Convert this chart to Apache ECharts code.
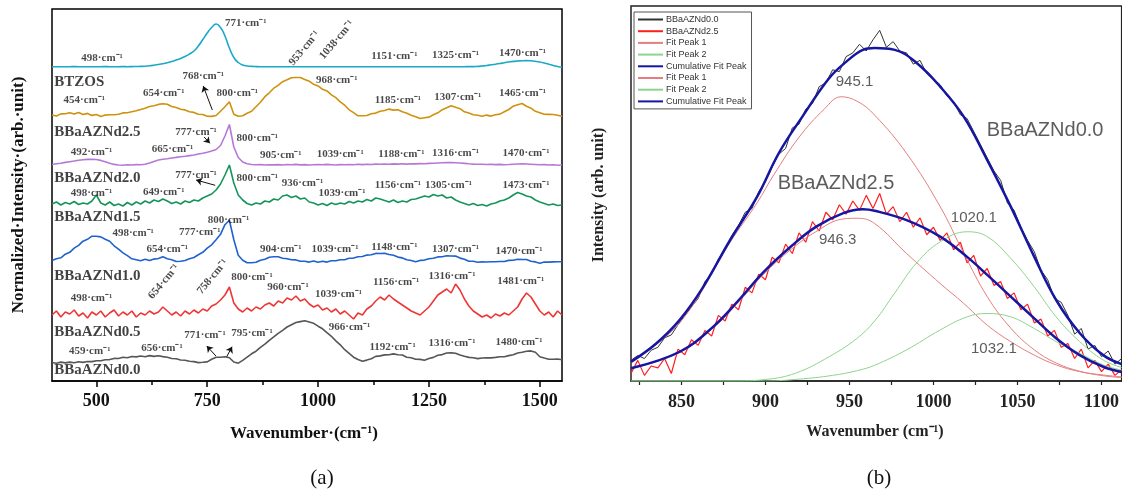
<!DOCTYPE html>
<html>
<head>
<meta charset="utf-8">
<title>Raman spectra of BBaAZNd glasses</title>
<script src="https://cdn.jsdelivr.net/npm/echarts@6/dist/echarts.min.js"></script>
<style>
  html, body { margin: 0; padding: 0; background: #fff; }
  #chart { width: 1122px; height: 491px; }
</style>
</head>
<body>
<div id="chart"></div>
<script>
// ---------- Panel (a): stacked Raman spectra (offset intensities) ----------
const wavenumberA = [
  400,410,420,430,440,450,460,470,480,490,
  500,510,520,530,540,550,560,570,580,590,
  600,610,620,630,640,650,660,670,680,690,
  700,710,720,730,740,750,760,770,780,790,
  800,810,820,830,840,850,860,870,880,890,
  900,910,920,930,940,950,960,970,980,990,
  1000,1010,1020,1030,1040,1050,1060,1070,1080,1090,
  1100,1110,1120,1130,1140,1150,1160,1170,1180,1190,
  1200,1210,1220,1230,1240,1250,1260,1270,1280,1290,
  1300,1310,1320,1330,1340,1350,1360,1370,1380,1390,
  1400,1410,1420,1430,1440,1450,1460,1470,1480,1490,
  1500,1510,1520,1530,1540,1550
];

const btzos = [
  314.3,314.3,314.2,314.3,314.3,314.4,314.3,314.3,314.2,314.3,
  314.3,314.3,314.4,314.3,314.3,314.3,314.4,314.3,314.4,314.5,
  314.6,314.8,315.2,315.8,316.5,317.3,318.3,319.5,321.0,322.5,
  324.5,327.0,330.0,335.0,341.5,348.0,353.5,357.0,353.5,345.0,
  333.0,323.5,318.5,316.0,315.0,314.6,314.4,314.3,314.3,314.3,
  314.3,314.3,314.2,314.3,314.3,314.3,314.2,314.3,314.3,314.3,
  314.3,314.2,314.3,314.3,314.3,314.3,314.2,314.3,314.3,314.3,
  314.3,314.3,314.2,314.3,314.3,314.3,314.3,314.2,314.3,314.3,
  314.3,314.3,314.3,314.2,314.3,314.3,314.3,314.3,314.3,314.3,
  314.3,314.3,314.3,314.3,314.4,314.4,314.6,315.0,315.5,316.2,
  316.8,317.5,318.3,319.0,319.6,320.0,320.3,320.4,320.2,319.7,
  319.0,318.0,316.8,315.5,314.5,313.7
];

const nd25 = [
  266.0,265.0,267.1,267.3,268.3,266.9,268.5,266.5,267.6,265.6,
  266.5,264.6,265.9,266.2,266.2,266.8,268.1,268.3,269.3,270.2,
  271.5,272.7,274.5,275.2,276.6,277.3,276.7,274.5,273.5,271.7,
  271.1,269.2,268.6,266.7,266.5,264.7,264.6,265.5,269.8,274.2,
  279.3,266.8,264.8,265.2,267.8,269.7,274.3,278.7,284.3,288.2,
  292.8,295.7,299.3,301.2,303.3,303.5,303.5,301.5,299.8,296.7,
  295.1,291.7,290.1,286.2,283.3,279.2,275.8,271.2,268.3,265.2,
  265.3,265.5,267.3,267.9,269.8,270.5,271.9,270.9,271.3,269.2,
  267.8,265.7,264.3,262.5,263.3,263.9,266.3,268.2,271.3,273.2,
  275.3,273.7,272.3,269.2,267.9,266.2,265.8,264.7,265.9,264.9,
  266.3,266.9,269.3,271.5,274.8,276.2,277.5,274.7,272.8,269.7,
  268.3,266.7,266.6,266.5,265.8,264.7
];

const nd20 = [
  216.5,217.2,217.8,218.6,219.3,220.0,220.8,221.3,221.6,221.8,
  221.5,220.6,219.3,217.8,216.6,216.0,215.8,216.2,216.0,216.4,
  216.3,216.8,218.0,219.6,221.0,221.8,222.3,223.0,223.6,224.3,
  224.8,225.4,226.0,227.0,227.8,228.8,230.0,231.5,235.5,245.0,
  256.5,234.0,223.5,219.0,217.2,216.5,216.2,216.4,216.0,216.3,
  216.1,216.4,216.0,216.5,216.2,216.6,216.1,216.4,216.0,216.3,
  216.5,216.2,216.6,216.3,216.0,216.4,216.2,216.5,216.3,216.7,
  216.4,216.8,216.5,216.9,216.7,217.0,216.8,217.1,216.9,217.2,
  216.9,217.3,217.1,217.4,217.2,217.6,217.8,218.0,218.2,218.4,
  218.5,218.3,218.0,217.6,217.2,216.9,216.7,216.8,216.5,216.7,
  216.4,216.6,216.3,216.5,216.8,217.0,217.2,217.0,216.8,216.5,
  216.2,216.4,216.0,216.2,215.8,216.0
];

const nd15 = [
  177,179,176,178.5,177,179.5,176.5,178,177,180,
  186,178,176,179,175.5,177,175,178.5,176,179,
  177,180,178,181,179.5,182,180,177.5,179,177,
  180,178.5,181,180,183,185,187,191,197,206,
  216,198,186,181,177.5,176,178,177,180,179,
  182,181,185,186,183.5,185,182,183,179,178,
  176,177.5,175.5,178,176.5,178,177,179.5,178,180,
  179,181.5,180,183,182,180.5,179,181,178.5,180,
  179,181.5,182,183.5,185,184,186.5,185,186,183,
  184,181,179,177.5,176,177.5,175.5,176.5,175,177,
  178,180,181,183,186,188.5,187,185,184,181,
  179,177.5,176,177,175.5,176
];

const nd10 = [
  120.5,122.3,123.2,126.8,128.7,132.8,135.7,139.8,141.7,144.8,
  144.7,144.1,141.7,139.8,135.2,131.8,128.2,125.3,122.2,121.3,
  120.2,121.8,120.5,121.9,122.5,124.3,122.2,121.3,119.5,119.8,
  120.5,122.3,123.5,126.3,128.7,132.8,136.2,141.3,146.7,156.3,
  160.7,141.3,125.7,120.8,118.2,118.3,118.7,120.8,121.7,123.8,
  124.2,124.3,122.7,122.3,121.2,121.1,119.7,119.8,118.9,120.1,
  118.7,119.8,118.9,120.3,120.2,121.3,121.3,122.7,122.9,124.3,
  124.5,125.9,126.2,127.6,127.5,127.8,126.5,125.8,123.9,123.1,
  121.2,120.5,119.2,120.6,120.9,122.3,122.7,124.1,124.3,125.3,
  125.0,124.9,122.9,121.8,119.7,119.7,118.7,119.1,119.0,119.3,
  119.3,119.5,119.5,120.6,120.7,121.8,121.5,121.5,119.7,119.1,
  117.7,118.9,118.9,119.1,119.2,119.3
];

const nd05 = [
  66,70,64,69,67,71,65,68,63,69,
  66,70,64,68,71,65,69,66,70,64,
  68,66,70,67,69,74,70,66,69,65,
  70,67,71,68,72,70,75,77,81,86,
  94,78,72,69,73,70,74,72,76,78,
  75,80,78,83,81,85,80,82,77,74,
  76,71,73,69,72,67,70,66,62,68,
  66,72,75,80,84,81,86,82,79,76,
  73,70,68,66,70,74,80,86,89,92,
  88,97,91,82,75,70,67,64,66,63,
  67,65,68,66,70,74,82,88,84,77,
  70,66,69,64,70,66
];

const nd00 = [
  18.5,17.8,18.9,18.1,18.9,18.2,19.3,18.6,19.5,19.4,
  20.2,20.3,21.3,21.4,22.6,22.5,23.7,23.3,24.5,24.1,
  25.0,24.3,25.4,24.6,25.2,24.4,23.8,22.5,22.2,21.0,
  20.8,19.8,19.4,18.4,18.7,19.1,21.7,23.8,23.8,24.2,
  23.3,19.0,17.8,20.7,23.8,27.2,29.8,33.7,36.8,40.7,
  44.1,47.7,50.6,54.0,56.3,58.5,59.4,60.2,59.0,57.7,
  54.8,52.2,48.3,44.7,40.1,36.2,31.3,27.7,23.8,21.5,
  19.8,20.9,22.3,24.6,25.1,26.1,26.3,27.1,26.2,26.0,
  23.8,23.2,21.8,21.6,20.8,22.5,23.6,25.7,26.4,28.0,
  28.1,27.7,26.0,24.7,23.6,23.2,22.4,23.0,23.1,23.1,
  23.6,24.2,24.3,25.4,26.3,28.0,28.8,29.8,30.1,28.7,
  24.3,23.0,21.8,21.8,22.0,21.2
];

// sample names, printed under each trace at the left edge [wavenumber, offset intensity, name]
const sampleNamesA = [
  [405, 299.3, 'BTZOS'],
  [405, 249.3, 'BBaAZNd2.5'],
  [405, 202.7, 'BBaAZNd2.0'],
  [405, 164.3, 'BBaAZNd1.5'],
  [405, 105.0, 'BBaAZNd1.0'],
  [405, 49.3, 'BBaAZNd0.5'],
  [405, 11.0, 'BBaAZNd0.0']
];

// band assignments [wavenumber, offset intensity, text, rotation]
const bandLabelsA = [
  [837, 357.7, '771·cm⁻¹', 0], [513, 322.7, '498·cm⁻¹', 0], [969, 332.7, '953·cm⁻¹', 50],
  [1042, 341, '1038·cm⁻¹', 50], [1172, 325, '1151·cm⁻¹', 0], [1310, 326, '1325·cm⁻¹', 0],
  [1461, 328.3, '1470·cm⁻¹', 0],
  [741, 305, '768·cm⁻¹', 0], [1042, 301, '968·cm⁻¹', 0], [473, 281, '454·cm⁻¹', 0],
  [652, 288.3, '654·cm⁻¹', 0], [818, 288.3, '800·cm⁻¹', 0], [1180, 281, '1185·cm⁻¹', 0],
  [1315, 283.7, '1307·cm⁻¹', 0], [1461, 288.3, '1465·cm⁻¹', 0],
  [725, 249.3, '777·cm⁻¹', 0], [863, 243.3, '800·cm⁻¹', 0], [489, 229.3, '492·cm⁻¹', 0],
  [672, 232, '665·cm⁻¹', 0], [916, 226, '905·cm⁻¹', 0], [1050, 227, '1039·cm⁻¹', 0],
  [1188, 227, '1188·cm⁻¹', 0], [1310, 227.7, '1316·cm⁻¹', 0], [1469, 228.3, '1470·cm⁻¹', 0],
  [725, 206, '777·cm⁻¹', 0], [863, 202.7, '800·cm⁻¹', 0], [965, 197.7, '936·cm⁻¹', 0],
  [489, 188.3, '498·cm⁻¹', 0], [652, 189.3, '649·cm⁻¹', 0], [1054, 188.3, '1039·cm⁻¹', 0],
  [1180, 196, '1156·cm⁻¹', 0], [1294, 196, '1305·cm⁻¹', 0], [1469, 196, '1473·cm⁻¹', 0],
  [798, 161, '800·cm⁻¹', 0], [583, 147.7, '498·cm⁻¹', 0], [733, 149.3, '777·cm⁻¹', 0],
  [660, 131.7, '654·cm⁻¹', 0], [916, 131.7, '904·cm⁻¹', 0], [1038, 131.7, '1039·cm⁻¹', 0],
  [1172, 134.3, '1148·cm⁻¹', 0], [1310, 131.7, '1307·cm⁻¹', 0], [1453, 130.3, '1470·cm⁻¹', 0],
  [652, 99.3, '654·cm⁻¹', 50], [762, 104.3, '758·cm⁻¹', 50], [851, 104.3, '800·cm⁻¹', 0],
  [932, 94.3, '960·cm⁻¹', 0], [1046, 87, '1039·cm⁻¹', 0], [1176, 99.3, '1156·cm⁻¹', 0],
  [1302, 105, '1316·cm⁻¹', 0], [1457, 100.3, '1481·cm⁻¹', 0], [489, 82.7, '498·cm⁻¹', 0],
  [1071, 54.3, '966·cm⁻¹', 0], [745, 46, '771·cm⁻¹', 0], [851, 47.7, '795·cm⁻¹', 0],
  [485, 30.3, '459·cm⁻¹', 0], [648, 32.7, '656·cm⁻¹', 0], [1168, 34.3, '1192·cm⁻¹', 0],
  [1302, 38.3, '1316·cm⁻¹', 0], [1453, 39.3, '1480·cm⁻¹', 0]
];

// pointer arrows [[tail], [head]]
const arrowsA = [
  [[761.5, 271], [741, 295]],
  [[743, 244], [756, 237.7]],
  [[768, 195.7], [725, 201]],
  [[769.6, 25], [749, 35]],
  [[794, 24.3], [806, 34.3]]
];

const majorTicksA = [500, 750, 1000, 1250, 1500];
const minorTicksA = [625, 875, 1125, 1375];

// ---------- Panel (b): deconvolution of the 850-1100 cm-1 band ----------
const wavenumberB = [
  820,824,828,832,836,840,844,848,852,856,860,864,868,872,876,880,884,888,892,896,
  900,904,908,912,916,920,924,928,932,936,940,944,948,952,956,960,964,968,972,976,
  980,984,988,992,996,1000,1004,1008,1012,1016,1020,1024,1028,1032,1036,1040,1044,1048,1052,1056,
  1060,1064,1068,1072,1076,1080,1084,1088,1092,1096,1100,1104,1108,1112
];

const rawNd00 = [
  5.5,6.8,6.0,8.2,9.0,11.5,12.3,15.0,17.5,19.8,22.0,26.5,28.5,32.5,35.0,38.8,41.5,45.0,46.0,50.5,
  53.2,57.0,60.5,62.0,67.5,68.5,72.5,74.0,78.5,79.5,83.0,82.5,86.5,87.5,89.8,88.0,91.0,93.5,89.0,90.5,
  88.0,87.5,84.5,85.5,82.0,80.5,79.0,76.0,74.5,71.0,70.0,66.5,63.0,59.5,56.0,53.5,47.5,45.5,41.0,37.5,
  34.5,29.5,27.0,22.0,21.0,17.5,12.5,14.0,8.5,9.5,6.5,8.0,4.5,6.0
];

const rawNd25 = [
  2.0,5.5,1.5,4.0,3.5,6.0,2.0,8.5,7.0,11.0,9.5,13.5,12.0,17.5,16.0,20.5,19.0,25.0,23.5,28.5,
  27.0,33.0,31.5,36.5,34.0,39.5,37.0,42.5,40.0,45.0,43.0,47.0,44.5,48.0,45.5,49.5,46.0,50.0,44.5,46.5,
  42.5,45.0,41.0,43.5,39.0,41.0,37.5,39.5,35.0,37.0,31.5,33.5,28.0,30.0,25.5,26.5,22.0,23.5,19.0,20.5,
  15.5,16.5,12.0,13.5,9.0,10.0,6.0,8.5,3.5,5.5,2.5,4.5,1.5,3.0
];

// fitted components [wavenumber, intensity]
const nd00Peak1 = [[820,5.0],[849,15.5],[879,37],[895,47.5],[905,55],[920,65],[935,72.5],[945,75.8],[955,74.5],[965,70.9],[984,60.7],[1004,46.5],[1018,34.1],[1032,22.5],[1046,14.1],[1060,8.3],[1073,4.8],[1087,2.6],[1101,1.4],[1112,0.9]];
const nd00Peak2 = [[820,0],[880,0],[900,0.4],[918,2.1],[938,6.5],[954,11.2],[965,16.0],[977,23.5],[990,31.5],[1004,37.1],[1020,39.8],[1032,38.5],[1046,32.7],[1060,25.1],[1073,17.1],[1087,10.5],[1101,5.6],[1112,3.6]];
const nd00Cumulative = [[820,5.1],[835,10.0],[849,16.3],[863,25.1],[879,37.6],[895,49.1],[908,60.8],[922,70.5],[938,80.8],[948,85.1],[958,88.3],[965,88.8],[977,88.3],[990,84.8],[1004,78.5],[1018,70.5],[1032,58.9],[1046,46.5],[1060,33.1],[1073,21.6],[1087,12.8],[1101,6.9],[1112,4.5]];
const nd25Peak1 = [[820,3.3],[849,7.6],[869,14.2],[885,21.5],[899,28.5],[915,35],[930,39.8],[946,43.2],[955,43.4],[965,42.0],[984,34.0],[1004,26.0],[1018,20.7],[1032,14.9],[1046,10.5],[1060,6.9],[1073,4.3],[1087,2.5],[1101,1.6],[1112,1.1]];
const nd25Peak2 = [[820,0],[900,0],[920,0.5],[940,1.5],[955,2.8],[965,4.2],[984,8.3],[1004,13.6],[1020,17.1],[1032,18.0],[1046,17.1],[1060,14.0],[1073,10.5],[1087,7.4],[1101,4.3],[1112,2.9]];
const nd25Cumulative = [[820,3.4],[849,7.8],[869,14.5],[885,22.0],[899,29.1],[915,35.8],[930,41.1],[946,44.7],[958,45.8],[965,45.4],[984,42.9],[1004,38.5],[1020,33.1],[1032,28.3],[1046,22.5],[1060,16.7],[1073,11.4],[1087,6.9],[1101,3.8],[1112,2.4]];

// peak centres and sample names [wavenumber, intensity, text, font size, align]
const labelsB = [
  [953, 79.8, '945.1', 15, 'center'],
  [943, 37.6, '946.3', 15, 'center'],
  [1024, 43.4, '1020.1', 15, 'center'],
  [1036, 8.7, '1032.1', 15, 'center'],
  [907.3, 52.7, 'BBaAZNd2.5', 20, 'left'],
  [1031.7, 66.9, 'BBaAZNd0.0', 20, 'left']
];

const majorTicksB = [850, 900, 950, 1000, 1050, 1100];
const allTicksB = [825, 850, 875, 900, 925, 950, 975, 1000, 1025, 1050, 1075, 1100];

// ---------- helpers ----------
const SERIF = 'Liberation Serif';
const SANS = 'Liberation Sans';
const zipA = ys => wavenumberA.map((x, i) => [x, ys[i]]);
const zipB = ys => wavenumberB.map((x, i) => [x, ys[i]]);
const plainNumber = v => String(v);

function traceA(name, ys, color, smooth) {
  return {
    name: name, type: 'line', xAxisIndex: 0, yAxisIndex: 0,
    data: zipA(ys), symbol: 'none', smooth: !!smooth, silent: true,
    lineStyle: { color: color, width: 1.6 }
  };
}
function traceB(name, data, color, width, z, smooth) {
  return {
    name: name, type: 'line', xAxisIndex: 2, yAxisIndex: 1,
    data: data, symbol: 'none', smooth: smooth ? 0.4 : false,
    silent: true, z: z,
    itemStyle: { color: color },
    lineStyle: { color: color, width: width }
  };
}

const chart = echarts.init(document.getElementById('chart'));

const option = {
  animation: false,
  backgroundColor: '#ffffff',
  grid: [
    { left: 52, right: 560, top: 9, bottom: 110, show: true, borderColor: '#000', borderWidth: 1.5, backgroundColor: 'transparent' },
    { left: 631, right: -2, top: 6, bottom: 110, show: true, borderColor: '#222', borderWidth: 1.5, backgroundColor: 'transparent' }
  ],
  xAxis: [
    {
      type: 'value', gridIndex: 0, min: 400, max: 1550, position: 'bottom',
      axisLine: { show: true, lineStyle: { color: '#000', width: 1.5 } },
      axisTick: { show: true, customValues: majorTicksA, length: 6, lineStyle: { color: '#000', width: 1.5 } },
      axisLabel: { customValues: majorTicksA, formatter: plainNumber, fontFamily: SERIF, fontWeight: 'bold', fontSize: 18, color: '#111', margin: 11 },
      splitLine: { show: false }
    },
    {
      type: 'value', gridIndex: 0, min: 400, max: 1550, position: 'bottom',
      axisLine: { show: false },
      axisTick: { show: true, customValues: minorTicksA, length: 4, lineStyle: { color: '#000', width: 1.5 } },
      axisLabel: { show: false }, splitLine: { show: false }
    },
    {
      type: 'value', gridIndex: 1, min: 820, max: 1112, position: 'bottom',
      axisLine: { show: true, lineStyle: { color: '#222', width: 1.5 } },
      axisTick: { show: true, customValues: allTicksB, length: 4, lineStyle: { color: '#222', width: 1.2 } },
      axisLabel: { customValues: majorTicksB, formatter: plainNumber, fontFamily: SERIF, fontWeight: 'bold', fontSize: 18, color: '#222', margin: 12 },
      splitLine: { show: false }
    }
  ],
  yAxis: [
    { type: 'value', gridIndex: 0, min: 0, max: 372, show: false },
    { type: 'value', gridIndex: 1, min: 0, max: 100, show: false }
  ],
  legend: {
    data: [
      'BBaAZNd0.0', 'BBaAZNd2.5',
      'BBaAZNd0.0 | Fit Peak 1', 'BBaAZNd0.0 | Fit Peak 2', 'BBaAZNd0.0 | Cumulative Fit Peak',
      'BBaAZNd2.5 | Fit Peak 1', 'BBaAZNd2.5 | Fit Peak 2', 'BBaAZNd2.5 | Cumulative Fit Peak'
    ],
    formatter: name => name.indexOf(' | ') >= 0 ? name.split(' | ')[1] : name,
    orient: 'vertical', left: 634, top: 12,
    itemWidth: 25, itemHeight: 9, itemGap: 2.7,
    padding: [3, 5, 3, 3],
    backgroundColor: '#fff', borderColor: '#555', borderWidth: 1,
    selectedMode: false,
    itemStyle: { opacity: 0 },
    textStyle: { fontFamily: SANS, fontSize: 9, color: '#333', lineHeight: 9, padding: [0, 0, 0, -2] }
  },
  graphic: [
    { type: 'text', x: 19, y: 195, rotation: Math.PI / 2,
      style: { text: 'Normalized·Intensity·(arb.·unit)', font: 'bold 17px "Liberation Serif"', fill: '#111', align: 'center', verticalAlign: 'middle' } },
    { type: 'text', x: 304, y: 434,
      style: { text: 'Wavenumber·(cm⁻¹)', font: 'bold 17px "Liberation Serif"', fill: '#111', align: 'center', verticalAlign: 'middle' } },
    { type: 'text', x: 322, y: 478,
      style: { text: '(a)', font: '21px "Liberation Serif"', fill: '#111', align: 'center', verticalAlign: 'middle' } },
    { type: 'text', x: 599, y: 195, rotation: Math.PI / 2,
      style: { text: 'Intensity (arb. unit)', font: 'bold 16px "Liberation Serif"', fill: '#222', align: 'center', verticalAlign: 'middle' } },
    { type: 'text', x: 875, y: 432,
      style: { text: 'Wavenumber (cm⁻¹)', font: 'bold 16px "Liberation Serif"', fill: '#222', align: 'center', verticalAlign: 'middle' } },
    { type: 'text', x: 879, y: 478,
      style: { text: '(b)', font: '21px "Liberation Serif"', fill: '#111', align: 'center', verticalAlign: 'middle' } }
  ],
  series: [
    traceA('BTZOS', btzos, '#1aa9c6', true),
    traceA('BBaAZNd2.5 spectrum', nd25, '#cf920f'),
    traceA('BBaAZNd2.0 spectrum', nd20, '#b678d6'),
    traceA('BBaAZNd1.5 spectrum', nd15, '#16955a'),
    traceA('BBaAZNd1.0 spectrum', nd10, '#1f62cf'),
    traceA('BBaAZNd0.5 spectrum', nd05, '#ee3636'),
    traceA('BBaAZNd0.0 spectrum', nd00, '#565656'),
    {
      type: 'scatter', xAxisIndex: 0, yAxisIndex: 0, silent: true, symbolSize: 0, z: 5,
      data: sampleNamesA.map(d => ({ value: [d[0], d[1]], name: d[2] })),
      label: { show: true, position: 'right', distance: 0, formatter: p => p.name,
        fontFamily: SERIF, fontWeight: 'bold', fontSize: 15, color: '#111' }
    },
    {
      type: 'scatter', xAxisIndex: 0, yAxisIndex: 0, silent: true, symbolSize: 0, z: 5,
      data: bandLabelsA.map(d => ({ value: [d[0], d[1]], name: d[2], label: { rotate: d[3] } })),
      label: { show: true, position: 'inside', formatter: p => p.name,
        fontFamily: SERIF, fontWeight: 'bold', fontSize: 11, color: '#1a1a1a' }
    },
    {
      type: 'lines', coordinateSystem: 'cartesian2d', xAxisIndex: 0, yAxisIndex: 0, silent: true, z: 5,
      symbol: ['none', 'arrow'], symbolSize: 6,
      lineStyle: { color: '#111', width: 1, opacity: 1 },
      data: arrowsA.map(a => ({ coords: a }))
    },
    traceB('BBaAZNd0.0', zipB(rawNd00), '#333333', 1, 2, false),
    traceB('BBaAZNd2.5', zipB(rawNd25), '#ff1f1f', 1.2, 2, false),
    traceB('BBaAZNd0.0 | Fit Peak 1', nd00Peak1, '#e37f7f', 1, 3, true),
    traceB('BBaAZNd0.0 | Fit Peak 2', nd00Peak2, '#8ed48e', 1, 3, true),
    traceB('BBaAZNd0.0 | Cumulative Fit Peak', nd00Cumulative, '#1616a3', 2.5, 4, true),
    traceB('BBaAZNd2.5 | Fit Peak 1', nd25Peak1, '#e37f7f', 1, 3, true),
    traceB('BBaAZNd2.5 | Fit Peak 2', nd25Peak2, '#8ed48e', 1, 3, true),
    traceB('BBaAZNd2.5 | Cumulative Fit Peak', nd25Cumulative, '#1616a3', 2.5, 4, true),
    {
      type: 'scatter', xAxisIndex: 2, yAxisIndex: 1, silent: true, symbolSize: 0, z: 6,
      data: labelsB.map(d => ({
        value: [d[0], d[1]], name: d[2],
        label: { fontSize: d[3], position: d[4] === 'left' ? 'right' : 'inside', distance: 0 }
      })),
      label: { show: true, formatter: p => p.name, fontFamily: SANS, color: '#333' }
    }
  ]
};

chart.setOption(option);
</script>
</body>
</html>
